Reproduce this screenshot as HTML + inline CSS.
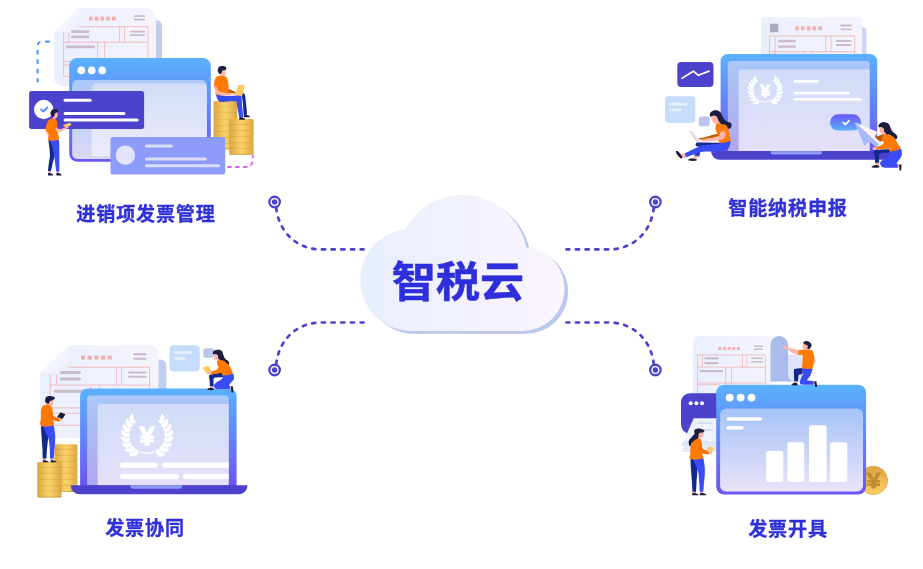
<!DOCTYPE html>
<html lang="zh-CN">
<head>
<meta charset="utf-8">
<title>智税云</title>
<style>
html,body{margin:0;padding:0;background:#fff;}
body{width:923px;height:569px;overflow:hidden;position:relative;font-family:"Liberation Sans","Noto Sans CJK SC",sans-serif;}
#stage{position:absolute;left:0;top:0;width:923px;height:569px;overflow:hidden;background:#fff;}
#stage svg{position:absolute;left:0;top:0;display:block;will-change:transform;}
.lbl,.title{will-change:transform;-webkit-font-smoothing:antialiased;}
.lbl{position:absolute;font-weight:700;font-size:19.1px;letter-spacing:0.8px;-webkit-text-stroke:0.3px #2f30d8;line-height:24px;height:24px;color:#2f30d8;white-space:nowrap;transform:translateX(-50%);}
.title{position:absolute;font-weight:700;font-size:42.6px;-webkit-text-stroke:0.5px #2e2edb;line-height:50px;height:50px;color:#2e2edb;white-space:nowrap;transform:translateX(-50%) scaleX(1.035);}
</style>
</head>
<body>
<div id="stage">
<svg width="923" height="569" viewBox="0 0 923 569">
<defs>
<linearGradient id="gWin" x1="0" y1="0" x2="0" y2="1"><stop offset="0" stop-color="#5bb1ff"/><stop offset="1" stop-color="#6b56f0"/></linearGradient>
<linearGradient id="gP1" x1="0" y1="0" x2="0" y2="1"><stop offset="0" stop-color="#a9c8f8"/><stop offset="1" stop-color="#b0a6f0"/></linearGradient>
<linearGradient id="gP1w" x1="0" y1="0" x2="0" y2="1"><stop offset="0" stop-color="#a9c8f8"/><stop offset="1" stop-color="#dcd8f8"/></linearGradient>
<linearGradient id="gP2w" x1="0" y1="0" x2="0" y2="1"><stop offset="0" stop-color="#d0dcf8"/><stop offset="1" stop-color="#eeebfb"/></linearGradient>
<linearGradient id="gP2" x1="0" y1="0" x2="0" y2="1"><stop offset="0" stop-color="#d0dcf8"/><stop offset="1" stop-color="#e6e0fa"/></linearGradient>
<linearGradient id="gP3" x1="0" y1="0" x2="0" y2="1"><stop offset="0" stop-color="#a4c4f8"/><stop offset="1" stop-color="#ebe2f8"/></linearGradient>
<linearGradient id="gPaper" x1="0" y1="0" x2="1" y2="0"><stop offset="0" stop-color="#eaeffd"/><stop offset="1" stop-color="#f5f3fd"/></linearGradient>
<linearGradient id="gFold" x1="0" y1="0" x2="1" y2="1"><stop offset="0.3" stop-color="#fafbff"/><stop offset="1" stop-color="#e9edfb"/></linearGradient>
<linearGradient id="gCoin" x1="0" y1="0" x2="1" y2="0"><stop offset="0" stop-color="#dca744"/><stop offset=".5" stop-color="#fbd367"/><stop offset="1" stop-color="#dca744"/></linearGradient>
<linearGradient id="gCoin2" x1="0" y1="0" x2="0" y2="1"><stop offset="0" stop-color="#dca342"/><stop offset="1" stop-color="#fbd062"/></linearGradient>
<linearGradient id="gCloud" gradientUnits="userSpaceOnUse" x1="362" y1="0" x2="566" y2="0"><stop offset="0" stop-color="#e8eefe"/><stop offset="1" stop-color="#fbf5fe"/></linearGradient>
<linearGradient id="gBtn" x1="0" y1="0" x2="0" y2="1"><stop offset="0" stop-color="#6b56f0"/><stop offset="1" stop-color="#5bb1ff"/></linearGradient>
</defs>
<g transform="translate(3.6,2.8)" fill="#b9c8ec"><circle cx="411.3" cy="280" r="51"/><circle cx="462.5" cy="260.1" r="65"/><circle cx="522.6" cy="289" r="42"/><rect x="411.3" y="280" width="111.3" height="51"/></g>
<g transform="translate(0,0)" fill="url(#gCloud)"><circle cx="411.3" cy="280" r="51"/><circle cx="462.5" cy="260.1" r="65"/><circle cx="522.6" cy="289" r="42"/><rect x="411.3" y="280" width="111.3" height="51"/></g>
<path d="M276.2,208.0 C279.6,236.0 300.6,249.4 320.6,249.4 H363.5" fill="none" stroke="#4d42cc" stroke-width="2.7" stroke-linecap="round" stroke-dasharray="3.2 6.5"/><circle cx="274.6" cy="202" r="5.25" fill="#fff" stroke="#4d42cc" stroke-width="2.3"/><circle cx="274.6" cy="202" r="2.7" fill="#4d42cc"/>
<path d="M276.2,364.0 C279.6,336.0 300.6,322.5 320.6,322.5 H363.5" fill="none" stroke="#4d42cc" stroke-width="2.7" stroke-linecap="round" stroke-dasharray="3.2 6.5"/><circle cx="274.6" cy="370" r="5.25" fill="#fff" stroke="#4d42cc" stroke-width="2.3"/><circle cx="274.6" cy="370" r="2.7" fill="#4d42cc"/>
<path d="M653.8,208.0 C650.4,236.0 629.4,249.4 609.4,249.4 H566.5" fill="none" stroke="#4d42cc" stroke-width="2.7" stroke-linecap="round" stroke-dasharray="3.2 6.5"/><circle cx="655.4" cy="202" r="5.25" fill="#fff" stroke="#4d42cc" stroke-width="2.3"/><circle cx="655.4" cy="202" r="2.7" fill="#4d42cc"/>
<path d="M653.8,364.0 C650.4,336.0 629.4,322.5 609.4,322.5 H566.5" fill="none" stroke="#4d42cc" stroke-width="2.7" stroke-linecap="round" stroke-dasharray="3.2 6.5"/><circle cx="655.4" cy="370" r="5.25" fill="#fff" stroke="#4d42cc" stroke-width="2.3"/><circle cx="655.4" cy="370" r="2.7" fill="#4d42cc"/>
<g id="tl">
<path d="M49,41.6 H41.6 Q37.6,41.8 37.6,46 V81.4" fill="none" stroke="#4f9cf7" stroke-width="2.2" stroke-linecap="round" stroke-dasharray="3 6.4"/>
<path d="M228,167 H245 Q252.8,167 252.8,159 V156" fill="none" stroke="#e064f0" stroke-width="2" stroke-linecap="round" stroke-dasharray="3 4.8"/>
<path d="M150,20 H156 a6,6 0 0 1 6,6 V60 H150 Z" fill="#c0cdee"/>
<path d="M78.9,7.9 H146 a10,10 0 0 1 10,10 V86 H62.3 a8,8 0 0 1 -8,-8 V32.5 Z" fill="url(#gPaper)"/>
<path d="M54.3,32.5 L78.9,7.9 V28 a4.5,4.5 0 0 1 -4.5,4.5 Z" fill="url(#gFold)"/>
<g fill="none" stroke="#f3aeae" stroke-width="0.8"><path d="M78.9,26.7 H148 V60 M63.6,32.5 V76.4 M68.7,32.5 V42.2 M63.6,42.2 H148 M119.6,26.7 V42.2 M124.6,26.7 V42.2 M97.7,42.2 V60 M104.7,42.2 V60 M63.6,61.5 H70 M63.6,65 H70 M63.6,76.4 H70"/></g>
<rect x="89.0" y="16.7" width="3.6" height="3.9" fill="#f3aeae"/>
<rect x="94.8" y="16.7" width="3.6" height="3.9" fill="#f3aeae"/>
<rect x="100.5" y="16.7" width="3.6" height="3.9" fill="#f3aeae"/>
<rect x="106.2" y="16.7" width="3.6" height="3.9" fill="#f3aeae"/>
<rect x="112.0" y="16.7" width="3.6" height="3.9" fill="#f3aeae"/>
<rect x="133.9" y="15.3" width="11.2" height="1.8" rx="0.9" fill="#c9bcc6" opacity="1"/>
<rect x="133.9" y="18.8" width="11.2" height="1.8" rx="0.9" fill="#c9bcc6" opacity="1"/>
<rect x="71.0" y="30.3" width="18.4" height="2.6" rx="1.3" fill="#c9bcc6" opacity="1"/>
<rect x="71.0" y="35.6" width="18.4" height="2.6" rx="1.3" fill="#c9bcc6" opacity="1"/>
<rect x="66.0" y="45.6" width="29.2" height="2.6" rx="1.3" fill="#c9bcc6" opacity="1"/>
<rect x="129.8" y="30.7" width="15.3" height="1.8" rx="0.9" fill="#c9bcc6" opacity="1"/>
<rect x="129.8" y="34.2" width="15.3" height="1.8" rx="0.9" fill="#c9bcc6" opacity="1"/>
<rect x="213.4" y="101.1" width="24.0" height="6.6" rx="1.5" fill="url(#gCoin)"/><rect x="213.8" y="106.7" width="23.2" height="0.9" rx="0.4" fill="#c48f36" opacity=".6"/><rect x="213.4" y="107.2" width="24.0" height="6.6" rx="1.5" fill="url(#gCoin)"/><rect x="213.8" y="112.8" width="23.2" height="0.9" rx="0.4" fill="#c48f36" opacity=".6"/><rect x="213.4" y="113.3" width="24.0" height="6.6" rx="1.5" fill="url(#gCoin)"/><rect x="213.8" y="118.9" width="23.2" height="0.9" rx="0.4" fill="#c48f36" opacity=".6"/><rect x="213.4" y="119.4" width="24.0" height="6.6" rx="1.5" fill="url(#gCoin)"/><rect x="213.8" y="125.0" width="23.2" height="0.9" rx="0.4" fill="#c48f36" opacity=".6"/><rect x="213.4" y="125.5" width="24.0" height="6.6" rx="1.5" fill="url(#gCoin)"/><rect x="213.8" y="131.1" width="23.2" height="0.9" rx="0.4" fill="#c48f36" opacity=".6"/><rect x="213.4" y="131.6" width="24.0" height="6.6" rx="1.5" fill="url(#gCoin)"/><rect x="213.8" y="137.2" width="23.2" height="0.9" rx="0.4" fill="#c48f36" opacity=".6"/><rect x="213.4" y="137.7" width="24.0" height="6.6" rx="1.5" fill="url(#gCoin)"/><rect x="213.8" y="143.3" width="23.2" height="0.9" rx="0.4" fill="#c48f36" opacity=".6"/><rect x="213.4" y="143.8" width="24.0" height="5.7" rx="1.5" fill="url(#gCoin)"/><rect x="213.8" y="148.5" width="23.2" height="0.9" rx="0.4" fill="#c48f36" opacity=".6"/>
<rect x="229.2" y="118.9" width="24.5" height="6.4" rx="1.5" fill="url(#gCoin)"/><rect x="229.6" y="124.3" width="23.7" height="0.9" rx="0.4" fill="#c48f36" opacity=".6"/><rect x="229.2" y="124.8" width="24.5" height="6.4" rx="1.5" fill="url(#gCoin)"/><rect x="229.6" y="130.2" width="23.7" height="0.9" rx="0.4" fill="#c48f36" opacity=".6"/><rect x="229.2" y="130.7" width="24.5" height="6.4" rx="1.5" fill="url(#gCoin)"/><rect x="229.6" y="136.1" width="23.7" height="0.9" rx="0.4" fill="#c48f36" opacity=".6"/><rect x="229.2" y="136.6" width="24.5" height="6.4" rx="1.5" fill="url(#gCoin)"/><rect x="229.6" y="142.0" width="23.7" height="0.9" rx="0.4" fill="#c48f36" opacity=".6"/><rect x="229.2" y="142.5" width="24.5" height="6.4" rx="1.5" fill="url(#gCoin)"/><rect x="229.6" y="147.9" width="23.7" height="0.9" rx="0.4" fill="#c48f36" opacity=".6"/><rect x="229.2" y="148.4" width="24.5" height="6.4" rx="1.5" fill="url(#gCoin)"/><rect x="229.6" y="153.8" width="23.7" height="0.9" rx="0.4" fill="#c48f36" opacity=".6"/>
<rect x="69.2" y="58" width="141.6" height="103.7" rx="8" fill="url(#gWin)"/>
<rect x="72.2" y="80" width="134.6" height="79" rx="5" fill="url(#gP1w)"/>
<path d="M96.7,83.5 H202.8 a4,4 0 0 1 4,4 V152 a4,4 0 0 1 -4,4 H91.7 V88.5 a5,5 0 0 1 5,-5 Z" fill="url(#gP2w)"/>
<circle cx="81.3" cy="70.4" r="3.8" fill="#fff"/>
<circle cx="91.7" cy="70.4" r="3.8" fill="#fff"/>
<circle cx="102.2" cy="70.4" r="3.8" fill="#fff"/>
<rect x="29.1" y="90.9" width="115" height="38" rx="2.5" fill="#4d42cc"/>
<circle cx="43.7" cy="109.5" r="9.7" fill="#fff"/>
<path d="M41.2,109.6 L43.5,111.4 L47.3,107.5" fill="none" stroke="#4f8ef7" stroke-width="1.9" stroke-linecap="round" stroke-linejoin="round"/>
<rect x="63.6" y="98.7" width="28.1" height="3.0" rx="1.5" fill="#fff" opacity="1"/>
<rect x="63.6" y="111.9" width="61.8" height="3.0" rx="1.5" fill="#fff" opacity="1"/>
<rect x="63.6" y="118.4" width="75.0" height="3.0" rx="1.5" fill="#fff" opacity="1"/>
<rect x="110.5" y="137.1" width="114.7" height="37.4" rx="2.5" fill="#8d9bf9"/>
<circle cx="125.4" cy="155.2" r="9.7" fill="#e3e4fb"/>
<rect x="144.9" y="144.4" width="28.0" height="3.0" rx="1.5" fill="#dadefc" opacity="1"/>
<rect x="144.9" y="157.5" width="61.9" height="3.0" rx="1.5" fill="#dadefc" opacity="1"/>
<rect x="144.9" y="164.2" width="75.1" height="3.0" rx="1.5" fill="#dadefc" opacity="1"/>
<g id="p1">
<path d="M46.01,128.42 C45.54,128.31 45.22,130.05 45.38,130.95 C45.54,131.85 46.43,133.16 46.96,133.80 C47.49,134.43 48.33,135.12 48.54,134.75 C48.76,134.38 48.65,132.64 48.23,131.58 C47.81,130.53 46.49,128.52 46.01,128.42 Z" fill="#fbb4a6" />
<path d="M48.68,140.00 C49.19,139.30 53.79,138.43 54.36,140.00 C54.93,141.57 54.50,153.53 54.36,155.70 C54.23,157.87 53.38,160.16 53.03,161.71 C52.67,163.26 51.31,170.25 50.82,171.20 C50.33,172.15 48.36,171.88 48.15,171.20 C47.94,170.52 48.50,165.93 48.68,164.38 C48.87,162.83 49.95,157.44 50.02,155.70 C50.09,153.96 49.49,148.59 49.35,147.02 C49.22,145.45 48.18,140.70 48.68,140.00 Z" fill="#0f2a8c" />
<path d="M50.35,140.00 C50.99,139.28 57.80,138.57 58.70,139.80 C59.61,141.04 59.31,149.77 59.37,152.36 C59.44,154.95 59.41,163.77 59.37,165.72 C59.34,167.67 59.33,171.25 59.04,171.87 C58.75,172.48 56.90,172.81 56.50,171.87 C56.10,170.92 55.26,164.00 55.03,162.38 C54.80,160.76 54.43,157.24 54.16,155.70 C53.89,154.16 52.74,148.59 52.36,147.02 C51.98,145.45 49.72,140.72 50.35,140.00 Z" fill="#3a4cf5" />
<polygon points="48.4,171.1 50.7,171.1 50.7,172.9 48.4,172.9" fill="#fbb4a6" />
<polygon points="56.7,171.6 59.0,171.6 59.0,172.9 56.7,172.9" fill="#fbb4a6" />
<path d="M48.02,175.41 L48.02,173.58 Q49.30,172.32 50.59,173.30 Q53.16,173.86 53.16,175.41 Z" fill="#1a1a35"/>
<path d="M56.37,175.41 L56.37,173.58 Q57.70,172.32 59.04,173.30 Q61.71,173.86 61.71,175.41 Z" fill="#1a1a35"/>
<polygon points="53.0,116.4 55.5,116.7 55.7,119.2 52.7,119.1" fill="#fbb4a6" />
<path d="M49.49,119.56 C50.51,118.86 51.46,118.67 52.66,118.61 C53.86,118.54 54.62,118.54 55.51,119.24 C56.39,119.94 56.68,120.38 57.09,122.09 C57.49,123.80 57.34,125.44 57.53,127.78 C57.72,130.13 57.87,131.46 58.04,133.80 C58.20,136.14 60.19,138.19 58.35,139.49 C56.52,140.80 50.82,141.27 48.86,140.32 C46.90,139.37 48.80,136.37 48.54,134.75 C48.29,133.13 48.10,133.23 47.59,132.22 C47.09,131.20 46.33,130.82 46.01,129.68 C45.70,128.54 45.70,128.04 46.01,126.52 C46.33,125.00 46.90,123.48 47.59,122.09 C48.29,120.70 48.48,120.25 49.49,119.56 Z" fill="#ff7a00" />
<path d="M55.70,128.54 C55.80,127.93 56.92,127.74 57.47,127.91 C58.02,128.08 57.78,129.63 58.99,129.56 C60.19,129.48 63.21,128.08 64.68,127.47 C66.16,126.86 67.15,125.98 67.85,125.89 C68.54,125.79 69.28,126.30 68.86,126.90 C68.44,127.50 67.05,128.54 65.32,129.49 C63.59,130.44 59.89,132.25 58.48,132.59 C57.07,132.94 57.30,132.26 56.84,131.58 C56.37,130.91 55.59,129.16 55.70,128.54 Z" fill="#fbb4a6" />
<path d="M63.10,125.25 C63.51,124.87 68.61,123.13 69.43,123.04 C70.25,122.94 71.23,124.05 71.33,124.30 C71.42,124.56 70.98,125.32 70.38,125.57 C69.78,125.82 66.04,126.87 65.32,126.84 C64.59,126.80 62.69,125.63 63.10,125.25 Z" fill="#fbcb62" />
<path d="M55.19,112.91 C55.84,112.38 56.91,112.03 57.41,112.47 C57.90,112.91 57.77,114.14 57.66,115.13 C57.54,116.11 57.39,116.94 56.84,117.41 C56.28,117.87 55.41,117.92 54.87,117.47 C54.34,117.01 54.11,116.04 54.18,115.13 C54.24,114.22 54.54,113.44 55.19,112.91 Z" fill="#fbb4a6" />
<path d="M51.08,111.33 C51.59,110.44 51.55,109.93 52.66,109.43 C53.77,108.93 54.54,108.97 55.82,109.18 C57.11,109.38 57.71,109.67 58.16,110.32 C58.62,110.97 58.45,111.36 57.78,111.96 C57.12,112.57 56.11,112.17 55.32,112.91 C54.52,113.65 54.90,114.23 54.37,115.13 C53.84,116.03 53.73,116.62 53.04,116.77 C52.34,116.92 52.00,116.59 51.39,115.76 C50.79,114.93 50.52,114.26 50.44,113.23 C50.37,112.19 50.56,112.22 51.08,111.33 Z" fill="#1d1d40" />
</g>
<g id="p2">
<path d="M241.85,93.45 C242.03,92.44 244.49,93.54 244.92,94.68 C245.35,95.81 245.96,102.81 246.15,104.77 C246.35,106.73 247.13,113.24 246.89,114.25 C246.66,115.26 244.20,115.81 243.82,114.86 C243.43,113.91 243.27,106.91 243.08,104.77 C242.88,102.63 241.66,94.46 241.85,93.45 Z" fill="#0f2a8c" />
<path d="M243.69,117.32 L243.69,115.40 Q245.29,114.07 246.89,115.11 Q250.09,115.70 250.09,117.32 Z" fill="#1a1a35"/>
<path d="M216.44,94.76 C217.29,94.36 222.12,95.52 224.87,95.60 C227.63,95.68 238.11,95.20 240.06,95.43 C242.01,95.66 241.36,95.77 241.58,97.54 C241.79,99.31 242.21,109.09 241.91,110.62 C241.62,112.14 239.65,111.68 239.04,110.62 C238.43,109.55 238.83,102.52 236.68,101.50 C234.54,100.49 222.89,102.22 220.65,101.93 C218.42,101.63 218.02,99.81 217.53,98.97 C217.04,98.14 215.58,95.15 216.44,94.76 Z" fill="#3a4cf5" />
<path d="M236.55,101.69 C236.69,100.62 241.04,100.70 241.48,101.69 C241.91,102.69 243.21,115.51 243.08,116.58 C242.95,117.66 239.94,118.81 239.51,117.82 C239.07,116.82 236.42,102.77 236.55,101.69 Z" fill="#3a4cf5" />
<path d="M239.26,119.66 L239.26,117.82 Q240.74,116.55 242.22,117.54 Q245.17,118.10 245.17,119.66 Z" fill="#1a1a35"/>
<polygon points="220.7,74.5 224.2,74.5 224.4,77.5 220.5,77.5" fill="#fbb4a6" />
<path d="M217.28,76.45 C218.29,75.94 219.22,75.69 220.65,75.61 C222.09,75.52 223.18,75.52 224.45,76.03 C225.72,76.53 226.22,76.79 226.98,78.14 C227.74,79.49 227.91,80.50 228.25,82.78 C228.58,85.05 228.50,87.30 228.67,89.53 C228.84,91.75 231.54,92.87 229.09,93.91 C226.64,94.96 219.05,95.46 216.44,94.76 C213.82,94.05 216.44,91.92 216.01,90.37 C215.59,88.82 214.66,88.68 214.33,87.00 C213.99,85.31 214.07,83.71 214.33,81.93 C214.58,80.16 215.00,79.23 215.59,78.14 C216.18,77.04 216.27,76.96 217.28,76.45 Z" fill="#ff7a00" />
<path d="M228.67,89.10 C229.28,89.02 234.43,91.46 235.16,91.89 C235.90,92.32 236.61,93.32 236.01,93.41 C235.40,93.49 229.82,93.16 229.09,92.73 C228.36,92.30 228.06,89.19 228.67,89.10 Z" fill="#c45f06" />
<path d="M214.24,86.83 C214.45,86.35 216.06,86.26 216.60,86.83 C217.14,87.39 216.85,90.20 218.29,91.04 C219.73,91.89 225.40,92.76 227.40,93.15 C229.40,93.55 232.27,93.69 233.31,94.00 C234.34,94.30 236.18,95.16 235.16,95.43 C234.15,95.70 228.16,96.22 225.72,96.02 C223.27,95.82 218.28,94.67 216.86,93.91 C215.44,93.16 215.43,91.31 215.09,90.37 C214.74,89.42 214.04,87.30 214.24,86.83 Z" fill="#fbb4a6" />
<polygon points="224.9,94.9 235.2,95.2 235.2,95.9 224.9,95.8" fill="#fde8e4" />
<polygon points="237.9,84.9 244.8,84.9 242.3,95.5 235.0,95.5" fill="#fbcb62" />
<path d="M221.92,70.54 C222.78,69.84 224.59,69.36 225.29,69.95 C226.00,70.54 225.61,72.35 225.46,73.50 C225.31,74.64 225.24,75.24 224.53,75.69 C223.83,76.15 222.63,76.21 221.92,75.78 C221.21,75.34 220.99,74.54 220.99,73.50 C220.99,72.45 221.06,71.25 221.92,70.54 Z" fill="#fbb4a6" />
<path d="M218.12,68.44 C218.71,67.16 219.08,66.80 220.65,66.33 C222.23,65.85 223.55,66.04 224.87,66.41 C226.19,66.79 226.19,67.06 226.31,67.93 C226.42,68.80 226.26,69.51 225.38,70.12 C224.49,70.73 223.40,69.95 222.51,70.54 C221.62,71.14 222.21,71.85 221.58,72.65 C220.95,73.46 220.62,74.20 219.81,74.00 C219.00,73.81 218.52,73.11 218.12,71.81 C217.73,70.51 217.53,69.72 218.12,68.44 Z" fill="#1d1d40" />
</g>
</g>
<g id="tr">
<path d="M858,27.2 H862.4 a4,4 0 0 1 4,4 V56 H858 Z" fill="#cad3ef"/>
<rect x="761" y="17.2" width="101.2" height="42" rx="3.5" fill="url(#gPaper)"/>
<rect x="770" y="23.7" width="8.3" height="8.5" fill="#a9aac2"/>
<rect x="795.3" y="26.4" width="3.6" height="3.9" fill="#f3aeae"/>
<rect x="801.0" y="26.4" width="3.6" height="3.9" fill="#f3aeae"/>
<rect x="806.8" y="26.4" width="3.6" height="3.9" fill="#f3aeae"/>
<rect x="812.5" y="26.4" width="3.6" height="3.9" fill="#f3aeae"/>
<rect x="818.3" y="26.4" width="3.6" height="3.9" fill="#f3aeae"/>
<rect x="840.3" y="24.6" width="11.7" height="1.8" rx="0.9" fill="#c9bcc6" opacity="1"/>
<rect x="840.3" y="28.4" width="11.7" height="1.8" rx="0.9" fill="#c9bcc6" opacity="1"/>
<g fill="none" stroke="#f3aeae" stroke-width="0.8"><path d="M769.5,56 V36 H854.7 V56 M775.1,36 V56 M825.7,36 V51.8 M831,36 V51.8 M769.5,51.8 H854.7 M803.7,51.8 V56 M811.6,51.8 V56"/></g>
<rect x="778.0" y="39.8" width="18.0" height="2.4" rx="1.2" fill="#c9bcc6" opacity="1"/>
<rect x="778.0" y="45.4" width="18.0" height="2.4" rx="1.2" fill="#c9bcc6" opacity="1"/>
<rect x="836.0" y="40.1" width="15.6" height="1.8" rx="0.9" fill="#c9bcc6" opacity="1"/>
<rect x="836.0" y="44.1" width="15.6" height="1.8" rx="0.9" fill="#c9bcc6" opacity="1"/>
<path d="M720.6,152 V61.1 a7,7 0 0 1 7,-7 H870.2 a7,7 0 0 1 7,7 V152 Z" fill="url(#gWin)"/>
<path d="M727.8,151.2 V64.1 a3,3 0 0 1 3,-3 H866.6 a3,3 0 0 1 3,3 V151.2 Z" fill="url(#gP1)"/>
<path d="M738.7,151.2 V72.4 a3,3 0 0 1 3,-3 H869.6 V151.2 Z" fill="url(#gP2)"/>
<path d="M711,151 H896 a8.8,8.8 0 0 1 -8.8,8.8 H719.8 a8.8,8.8 0 0 1 -8.8,-8.8 Z" fill="#4d42cc"/>
<path d="M770.4,151.2 H822.2 a3.4,3.4 0 0 1 -3.4,3.4 H773.8 a3.4,3.4 0 0 1 -3.4,-3.4 Z" fill="#8d9bf9"/>
<g fill="#fff" opacity="1"><path transform="translate(772.09,102.56) rotate(7.0)" d="M-0.85,0 Q2.26,-2.91 5.64,0 Q2.26,2.91 -0.85,0 Z"/><path transform="translate(772.09,102.56) rotate(-69.0)" d="M-0.52,0 Q1.40,-2.91 3.50,0 Q1.40,2.91 -0.52,0 Z"/><path transform="translate(774.96,100.45) rotate(-7.6)" d="M-0.85,0 Q2.26,-2.91 5.64,0 Q2.26,2.91 -0.85,0 Z"/><path transform="translate(774.96,100.45) rotate(-83.6)" d="M-0.52,0 Q1.40,-2.91 3.50,0 Q1.40,2.91 -0.52,0 Z"/><path transform="translate(777.20,97.70) rotate(-22.1)" d="M-0.85,0 Q2.26,-2.91 5.64,0 Q2.26,2.91 -0.85,0 Z"/><path transform="translate(777.20,97.70) rotate(-98.1)" d="M-0.52,0 Q1.40,-2.91 3.50,0 Q1.40,2.91 -0.52,0 Z"/><path transform="translate(778.68,94.46) rotate(-36.7)" d="M-0.85,0 Q2.26,-2.91 5.64,0 Q2.26,2.91 -0.85,0 Z"/><path transform="translate(778.68,94.46) rotate(-112.7)" d="M-0.52,0 Q1.40,-2.91 3.50,0 Q1.40,2.91 -0.52,0 Z"/><path transform="translate(779.30,90.96) rotate(-51.3)" d="M-0.85,0 Q2.26,-2.91 5.64,0 Q2.26,2.91 -0.85,0 Z"/><path transform="translate(779.30,90.96) rotate(-127.3)" d="M-0.52,0 Q1.40,-2.91 3.50,0 Q1.40,2.91 -0.52,0 Z"/><path transform="translate(779.01,87.42) rotate(-65.9)" d="M-0.85,0 Q2.26,-2.91 5.64,0 Q2.26,2.91 -0.85,0 Z"/><path transform="translate(779.01,87.42) rotate(-141.9)" d="M-0.52,0 Q1.40,-2.91 3.50,0 Q1.40,2.91 -0.52,0 Z"/><path transform="translate(777.85,84.06) rotate(-80.4)" d="M-0.85,0 Q2.26,-2.91 5.64,0 Q2.26,2.91 -0.85,0 Z"/><path transform="translate(777.85,84.06) rotate(-156.4)" d="M-0.52,0 Q1.40,-2.91 3.50,0 Q1.40,2.91 -0.52,0 Z"/><path transform="translate(775.88,81.11) rotate(-95.0)" d="M-0.85,0 Q2.26,-2.91 5.64,0 Q2.26,2.91 -0.85,0 Z"/><path transform="translate(775.88,81.11) rotate(-171.0)" d="M-0.52,0 Q1.40,-2.91 3.50,0 Q1.40,2.91 -0.52,0 Z"/><path transform="translate(758.51,102.56) rotate(-187.0)" d="M-0.85,0 Q2.26,-2.91 5.64,0 Q2.26,2.91 -0.85,0 Z"/><path transform="translate(758.51,102.56) rotate(-111.0)" d="M-0.52,0 Q1.40,-2.91 3.50,0 Q1.40,2.91 -0.52,0 Z"/><path transform="translate(755.64,100.45) rotate(-172.4)" d="M-0.85,0 Q2.26,-2.91 5.64,0 Q2.26,2.91 -0.85,0 Z"/><path transform="translate(755.64,100.45) rotate(-96.4)" d="M-0.52,0 Q1.40,-2.91 3.50,0 Q1.40,2.91 -0.52,0 Z"/><path transform="translate(753.40,97.70) rotate(-157.9)" d="M-0.85,0 Q2.26,-2.91 5.64,0 Q2.26,2.91 -0.85,0 Z"/><path transform="translate(753.40,97.70) rotate(-81.9)" d="M-0.52,0 Q1.40,-2.91 3.50,0 Q1.40,2.91 -0.52,0 Z"/><path transform="translate(751.92,94.46) rotate(-143.3)" d="M-0.85,0 Q2.26,-2.91 5.64,0 Q2.26,2.91 -0.85,0 Z"/><path transform="translate(751.92,94.46) rotate(-67.3)" d="M-0.52,0 Q1.40,-2.91 3.50,0 Q1.40,2.91 -0.52,0 Z"/><path transform="translate(751.30,90.96) rotate(-128.7)" d="M-0.85,0 Q2.26,-2.91 5.64,0 Q2.26,2.91 -0.85,0 Z"/><path transform="translate(751.30,90.96) rotate(-52.7)" d="M-0.52,0 Q1.40,-2.91 3.50,0 Q1.40,2.91 -0.52,0 Z"/><path transform="translate(751.59,87.42) rotate(-114.1)" d="M-0.85,0 Q2.26,-2.91 5.64,0 Q2.26,2.91 -0.85,0 Z"/><path transform="translate(751.59,87.42) rotate(-38.1)" d="M-0.52,0 Q1.40,-2.91 3.50,0 Q1.40,2.91 -0.52,0 Z"/><path transform="translate(752.75,84.06) rotate(-99.6)" d="M-0.85,0 Q2.26,-2.91 5.64,0 Q2.26,2.91 -0.85,0 Z"/><path transform="translate(752.75,84.06) rotate(-23.6)" d="M-0.52,0 Q1.40,-2.91 3.50,0 Q1.40,2.91 -0.52,0 Z"/><path transform="translate(754.72,81.11) rotate(-85.0)" d="M-0.85,0 Q2.26,-2.91 5.64,0 Q2.26,2.91 -0.85,0 Z"/><path transform="translate(754.72,81.11) rotate(-9.0)" d="M-0.52,0 Q1.40,-2.91 3.50,0 Q1.40,2.91 -0.52,0 Z"/><path d="M760.39,101.22 Q765.30,103.04 770.21,101.22" fill="none" stroke="#fff" stroke-width="0.91" stroke-linecap="round"/><text transform="translate(765.30,96.60) scale(1.05,1)" text-anchor="middle" font-family="'Liberation Sans', sans-serif" font-weight="bold" font-size="16.4" fill="#fff" stroke="#fff" stroke-width="0.82">¥</text></g>
<rect x="793.7" y="80.0" width="25.3" height="2.8" rx="1.4" fill="#fff" opacity="1"/>
<rect x="793.7" y="91.7" width="56.1" height="2.8" rx="1.4" fill="#fff" opacity="1"/>
<rect x="793.7" y="97.9" width="68.0" height="2.8" rx="1.4" fill="#fff" opacity="1"/>
<rect x="830" y="114.3" width="31.2" height="16.3" rx="8.15" fill="url(#gBtn)"/>
<path d="M843.2,122.6 L845.4,124.4 L849,120.8" fill="none" stroke="#fff" stroke-width="1.8" stroke-linecap="round" stroke-linejoin="round"/>
<rect x="677.3" y="62" width="36.2" height="25" rx="4" fill="#4d42cc"/>
<path d="M681.8,78.4 L693.4,71.2 L698.4,75.3 L709,71.1" fill="none" stroke="#fff" stroke-width="1.7" stroke-linecap="round" stroke-linejoin="round"/>
<rect x="665" y="96.2" width="30.3" height="26.8" rx="4" fill="#c6dcfb"/>
<rect x="668.8" y="102.8" width="18.6" height="2.8" rx="1.4" fill="#e4eefd" opacity="1"/>
<rect x="668.8" y="108.5" width="12.8" height="2.8" rx="1.4" fill="#e4eefd" opacity="1"/>
<rect x="698.8" y="116.4" width="10.9" height="9.8" rx="2.5" fill="#bac6ec"/>
<g id="p3">
<path d="M709.85,114.44 C710.10,113.08 710.48,112.26 711.96,111.27 C713.43,110.29 714.21,109.97 716.18,110.22 C718.14,110.46 718.92,110.85 720.39,112.33 C721.87,113.80 721.27,114.58 722.50,116.54 C723.73,118.51 723.82,119.29 725.67,120.76 C727.51,122.24 729.06,121.64 730.41,122.87 C731.76,124.10 731.83,124.68 731.47,126.03 C731.10,127.39 730.43,128.79 728.83,128.67 C727.23,128.55 726.58,126.74 724.61,125.51 C722.64,124.28 721.87,124.50 720.39,123.40 C718.92,122.29 719.27,122.36 718.29,120.76 C717.30,119.16 717.41,117.65 716.18,116.54 C714.95,115.44 714.24,115.89 713.01,116.02 C711.78,116.14 711.64,117.44 710.90,117.07 C710.17,116.70 709.60,115.79 709.85,114.44 Z" fill="#1d1d40" />
<path d="M710.90,116.54 C711.54,115.87 713.75,115.38 715.12,115.81 C716.49,116.23 717.19,117.45 717.76,118.65 C718.33,119.85 718.39,120.85 717.97,121.82 C717.55,122.79 716.64,123.50 715.65,123.50 C714.66,123.50 713.75,122.68 713.01,121.82 C712.27,120.95 712.38,120.23 711.96,119.18 C711.54,118.13 710.27,117.22 710.90,116.54 Z" fill="#fbb4a6" />
<polygon points="716.0,121.6 719.1,121.6 720.1,124.8 716.5,125.2" fill="#fbb4a6" />
<path d="M697.72,142.17 C700.06,141.85 717.16,142.11 719.34,142.48 C721.52,142.85 721.34,145.41 719.55,145.86 C717.76,146.30 703.78,146.93 701.41,146.91 C699.05,146.89 696.30,146.12 695.93,145.65 C695.56,145.17 695.38,142.48 697.72,142.17 Z" fill="#0f2a8c" />
<path d="M695.09,152.18 C695.67,151.82 699.76,151.76 700.15,152.18 C700.54,152.60 699.57,156.04 698.99,156.40 C698.41,156.76 694.74,156.19 694.35,155.77 C693.96,155.35 694.51,152.54 695.09,152.18 Z" fill="#2a40d4" />
<path d="M719.34,142.17 C720.59,141.86 728.90,140.63 730.09,141.11 C731.29,141.59 729.94,145.31 729.57,146.28 C729.20,147.25 728.00,148.89 726.93,149.44 C725.86,150.00 722.26,150.78 720.39,151.02 C718.52,151.27 713.24,151.43 710.90,151.55 C708.57,151.67 703.31,151.39 700.36,152.08 C697.41,152.77 687.53,157.22 685.60,157.46 C683.67,157.69 682.21,155.36 683.81,154.08 C685.41,152.80 696.76,147.57 699.31,146.49 C701.85,145.41 703.29,145.12 705.63,144.80 C707.97,144.48 717.74,144.06 719.34,143.75 C720.94,143.44 718.08,142.47 719.34,142.17 Z" fill="#3a4cf5" />
<path d="M681.17,154.50 C681.38,154.04 684.08,153.01 684.54,153.24 C685.01,153.47 686.02,156.36 685.81,156.82 C685.60,157.29 682.90,158.11 682.44,157.88 C681.97,157.64 680.96,154.97 681.17,154.50 Z" fill="#fbb4a6" />
<path d="M675.90,151.97 C675.93,151.34 676.88,150.78 677.80,151.34 C678.71,151.90 680.64,154.20 681.38,155.35 C682.12,156.49 682.40,157.77 682.22,158.19 C682.05,158.61 681.10,158.39 680.33,157.88 C679.55,157.37 678.32,156.12 677.58,155.14 C676.85,154.15 675.86,152.60 675.90,151.97 Z" fill="#1a1a35" />
<path d="M693.82,155.56 C694.18,155.33 697.10,155.80 697.41,156.08 C697.71,156.37 697.24,158.17 696.88,158.40 C696.52,158.64 694.13,158.69 693.82,158.40 C693.52,158.12 693.46,155.79 693.82,155.56 Z" fill="#fbb4a6" />
<path d="M688.23,159.46 C688.67,159.09 691.03,158.51 692.45,158.51 C693.88,158.51 696.25,159.09 696.78,159.46 C697.30,159.83 696.78,160.51 695.62,160.72 C694.46,160.93 691.05,160.93 689.82,160.72 C688.59,160.51 687.80,159.83 688.23,159.46 Z" fill="#1a1a35" />
<path d="M717.23,123.40 C718.41,122.77 719.61,123.50 721.45,123.92 C723.28,124.35 724.99,124.24 726.40,125.51 C727.82,126.77 727.88,128.04 728.51,130.25 C729.15,132.47 729.25,134.43 729.57,136.58 C729.88,138.73 732.14,139.80 730.09,141.01 C728.05,142.21 721.60,143.26 719.34,142.59 C717.08,141.91 719.44,139.89 718.81,137.63 C718.18,135.38 716.83,133.41 716.18,131.31 C715.52,129.20 715.33,128.67 715.54,127.09 C715.75,125.51 716.05,124.03 717.23,123.40 Z" fill="#ff7a00" />
<path d="M716.18,133.94 C718.14,133.77 719.69,135.53 718.29,136.26 C716.88,136.99 708.02,139.00 705.63,139.42 C703.24,139.85 701.30,139.59 700.36,139.42 C699.42,139.26 698.15,138.41 698.57,138.16 C698.99,137.91 701.18,138.09 703.52,137.53 C705.87,136.96 714.21,134.11 716.18,133.94 Z" fill="#c45f06" />
<path d="M720.39,132.36 C721.20,131.50 723.29,130.87 724.19,131.31 C725.09,131.75 725.86,133.75 725.77,135.00 C725.68,136.24 724.73,137.97 723.66,138.79 C722.59,139.62 722.34,139.50 719.34,139.95 C716.33,140.41 708.48,141.46 705.63,141.53 C702.79,141.60 702.26,140.85 702.26,140.37 C702.26,139.90 703.31,139.16 705.63,138.69 C707.95,138.21 713.89,137.90 716.18,137.53 C718.46,137.16 718.64,137.33 719.34,136.47 C720.04,135.61 719.59,133.22 720.39,132.36 Z" fill="#fbb4a6" />
<polygon points="696.7,141.2 719.3,141.5 719.3,142.7 697.7,142.5" fill="#fde6e6" />
<polygon points="689.1,130.9 692.3,131.6 699.3,140.3 696.7,142.0" fill="#f7b6bc" />
<polygon points="690.3,131.7 692.3,132.1 698.9,140.0 697.4,141.1" fill="#d9edfb" />
</g>
<polygon points="854.6,122.3 864.5,145.7 869.2,141.6 876.2,147.3 879.6,144.2 872.1,138.2 866.4,132.5" fill="#a9b9f9" />
<polygon points="854.6,122.3 877.6,131.9 874.9,136.6 883.4,143.1 879.5,144.6 872.1,138.3 866.5,132.6" fill="#fdf2ef" />
<g id="p4">
<path d="M878.47,125.55 C878.84,124.56 879.10,123.70 880.58,122.91 C882.06,122.12 882.93,121.95 884.80,122.17 C886.67,122.39 887.22,122.46 888.60,123.86 C889.97,125.26 889.72,126.31 890.70,128.18 C891.69,130.05 891.46,130.27 892.81,131.87 C894.17,133.47 895.50,133.56 896.50,135.04 C897.51,136.51 897.53,137.29 897.14,138.20 C896.74,139.11 896.22,139.53 894.82,138.94 C893.41,138.35 892.97,136.68 891.13,135.67 C889.28,134.66 888.63,135.50 886.91,134.61 C885.19,133.73 884.61,133.25 883.74,131.87 C882.88,130.49 883.96,129.69 883.22,128.71 C882.48,127.72 881.57,128.02 880.58,127.65 C879.60,127.29 879.49,127.62 879.00,127.13 C878.51,126.63 878.10,126.53 878.47,125.55 Z" fill="#1d1d40" />
<path d="M879.53,127.13 C880.20,126.79 882.44,127.13 883.32,128.08 C884.21,129.03 884.29,130.86 883.96,131.87 C883.62,132.88 882.48,133.14 881.64,133.14 C880.79,133.14 880.07,132.55 879.74,131.87 C879.40,131.20 879.99,130.71 879.95,129.76 C879.91,128.81 878.85,127.46 879.53,127.13 Z" fill="#fbb4a6" />
<polygon points="882.2,131.9 885.4,132.3 885.4,135.2 882.7,135.2" fill="#fbb4a6" />
<path d="M874.25,150.33 C875.44,149.67 887.73,149.09 889.02,149.27 C890.30,149.46 890.44,152.18 889.65,152.54 C888.86,152.90 880.41,152.72 879.53,153.60 C878.65,154.47 879.46,162.30 879.10,163.09 C878.75,163.88 875.67,163.58 875.31,163.09 C874.95,162.59 874.87,158.24 874.78,157.18 C874.69,156.12 873.07,150.99 874.25,150.33 Z" fill="#0f2a8c" />
<path d="M890.07,151.17 C891.78,150.47 898.12,148.53 900.09,148.74 C902.06,148.96 901.67,151.21 901.88,152.44 C902.09,153.67 901.88,154.81 901.36,156.13 C900.83,157.44 899.51,159.11 898.72,160.34 C897.93,161.57 896.72,162.80 896.61,163.51 C896.50,164.21 897.84,163.91 898.09,164.56 C898.33,165.21 900.48,166.94 898.09,167.41 C895.70,167.88 886.68,167.88 883.74,167.41 C880.81,166.94 881.02,165.48 880.48,164.56 C879.93,163.65 879.93,162.80 880.48,161.93 C881.02,161.05 882.41,160.26 883.74,159.29 C885.08,158.32 887.47,157.18 888.49,156.13 C889.51,155.07 889.60,153.79 889.86,152.96 C890.12,152.14 888.37,151.87 890.07,151.17 Z" fill="#3a4cf5" />
<polygon points="875.7,162.7 879.1,162.7 879.1,165.6 875.7,165.6" fill="#fbb4a6" />
<path d="M871.93,166.36 C872.48,165.92 874.62,165.02 875.84,164.98 C877.05,164.95 878.75,165.70 879.21,166.14 C879.67,166.58 879.68,167.37 878.58,167.62 C877.47,167.87 873.67,167.83 872.57,167.62 C871.46,167.41 871.39,166.79 871.93,166.36 Z" fill="#1a1a35" />
<polygon points="897.7,164.4 899.8,164.4 899.8,167.4 897.7,167.4" fill="#fbb4a6" />
<polygon points="899.1,164.8 901.5,164.2 901.2,170.6 899.6,170.6" fill="#1a1a35" />
<polygon points="875.1,137.2 882.5,134.2 884.6,135.0 883.9,140.8 879.6,141.4" fill="#b5590a" />
<path d="M883.74,134.51 C884.94,133.72 887.26,134.51 889.02,135.04 C890.77,135.56 892.85,136.27 894.29,137.67 C895.73,139.08 896.66,141.63 897.66,143.47 C898.67,145.32 901.57,147.39 900.30,148.74 C899.04,150.10 891.95,151.57 890.07,151.59 C888.19,151.61 891.30,149.20 889.02,148.85 C886.73,148.50 878.58,149.68 876.36,149.48 C874.15,149.29 874.85,148.43 875.73,147.69 C876.61,146.95 880.30,145.93 881.64,145.05 C882.97,144.18 883.71,143.30 883.74,142.42 C883.78,141.54 881.85,141.10 881.85,139.78 C881.85,138.46 882.55,135.30 883.74,134.51 Z" fill="#ff7a00" />
<path d="M872.46,147.69 C872.81,147.20 875.15,146.78 875.84,147.06 C876.52,147.34 876.93,148.89 876.57,149.38 C876.22,149.87 874.41,150.29 873.73,150.01 C873.04,149.73 872.11,148.18 872.46,147.69 Z" fill="#fbb4a6" />
</g>
</g>
<g id="bl">
<path d="M154,359.6 H160.4 a6,6 0 0 1 6,6 V390 H154 Z" fill="#c0cdee"/>
<path d="M69,345.2 H150.5 a8,8 0 0 1 8,8 V438 H48.2 a8,8 0 0 1 -8,-8 V372.8 Z" fill="url(#gPaper)"/>
<path d="M40.2,372.8 L69,345.2 V368 a4.8,4.8 0 0 1 -4.8,4.8 Z" fill="url(#gFold)"/>
<g fill="none" stroke="#f3aeae" stroke-width="0.8"><path d="M67.8,367.2 H149.5 V390 M50.2,374.5 V426 M56.7,374.5 V385.1 M50.2,385.1 H149.5 M116.4,367.2 V385.1 M121.7,367.2 V385.1 M90.6,385.1 V390 M99.4,385.1 V390 M50.2,407.9 H81 M50.2,413.2 H81 M50.2,425.3 H81"/></g>
<rect x="81.0" y="355.7" width="4" height="3.9" fill="#f3aeae"/>
<rect x="87.7" y="355.7" width="4" height="3.9" fill="#f3aeae"/>
<rect x="94.4" y="355.7" width="4" height="3.9" fill="#f3aeae"/>
<rect x="101.1" y="355.7" width="4" height="3.9" fill="#f3aeae"/>
<rect x="107.8" y="355.7" width="4" height="3.9" fill="#f3aeae"/>
<rect x="133.1" y="353.3" width="13.4" height="2.0" rx="1.0" fill="#c9bcc6" opacity="1"/>
<rect x="133.1" y="357.7" width="13.4" height="2.0" rx="1.0" fill="#c9bcc6" opacity="1"/>
<rect x="59.9" y="370.9" width="21.1" height="3.0" rx="1.5" fill="#c9bcc6" opacity="1"/>
<rect x="59.9" y="377.4" width="21.1" height="3.0" rx="1.5" fill="#c9bcc6" opacity="1"/>
<rect x="53.7" y="389.7" width="31.3" height="3.0" rx="1.5" fill="#c9bcc6" opacity="1"/>
<rect x="128.0" y="371.4" width="18.5" height="2.0" rx="1.0" fill="#c9bcc6" opacity="1"/>
<rect x="128.0" y="375.8" width="18.5" height="2.0" rx="1.0" fill="#c9bcc6" opacity="1"/>
<rect x="54.4" y="444.2" width="23.0" height="6.4" rx="1.5" fill="url(#gCoin)"/><rect x="54.8" y="449.6" width="22.2" height="0.9" rx="0.4" fill="#c48f36" opacity=".6"/><rect x="54.4" y="450.1" width="23.0" height="6.4" rx="1.5" fill="url(#gCoin)"/><rect x="54.8" y="455.5" width="22.2" height="0.9" rx="0.4" fill="#c48f36" opacity=".6"/><rect x="54.4" y="456.0" width="23.0" height="6.4" rx="1.5" fill="url(#gCoin)"/><rect x="54.8" y="461.4" width="22.2" height="0.9" rx="0.4" fill="#c48f36" opacity=".6"/><rect x="54.4" y="461.9" width="23.0" height="6.4" rx="1.5" fill="url(#gCoin)"/><rect x="54.8" y="467.3" width="22.2" height="0.9" rx="0.4" fill="#c48f36" opacity=".6"/><rect x="54.4" y="467.8" width="23.0" height="6.4" rx="1.5" fill="url(#gCoin)"/><rect x="54.8" y="473.2" width="22.2" height="0.9" rx="0.4" fill="#c48f36" opacity=".6"/><rect x="54.4" y="473.7" width="23.0" height="6.4" rx="1.5" fill="url(#gCoin)"/><rect x="54.8" y="479.1" width="22.2" height="0.9" rx="0.4" fill="#c48f36" opacity=".6"/><rect x="54.4" y="479.6" width="23.0" height="6.4" rx="1.5" fill="url(#gCoin)"/><rect x="54.8" y="485.0" width="22.2" height="0.9" rx="0.4" fill="#c48f36" opacity=".6"/><rect x="54.4" y="485.5" width="23.0" height="6.4" rx="1.5" fill="url(#gCoin)"/><rect x="54.8" y="490.9" width="22.2" height="0.9" rx="0.4" fill="#c48f36" opacity=".6"/>
<rect x="37.2" y="462.0" width="24.4" height="6.3" rx="1.5" fill="url(#gCoin)"/><rect x="37.6" y="467.4" width="23.6" height="0.9" rx="0.4" fill="#c48f36" opacity=".6"/><rect x="37.2" y="467.9" width="24.4" height="6.3" rx="1.5" fill="url(#gCoin)"/><rect x="37.6" y="473.2" width="23.6" height="0.9" rx="0.4" fill="#c48f36" opacity=".6"/><rect x="37.2" y="473.7" width="24.4" height="6.3" rx="1.5" fill="url(#gCoin)"/><rect x="37.6" y="479.1" width="23.6" height="0.9" rx="0.4" fill="#c48f36" opacity=".6"/><rect x="37.2" y="479.6" width="24.4" height="6.3" rx="1.5" fill="url(#gCoin)"/><rect x="37.6" y="484.9" width="23.6" height="0.9" rx="0.4" fill="#c48f36" opacity=".6"/><rect x="37.2" y="485.4" width="24.4" height="6.3" rx="1.5" fill="url(#gCoin)"/><rect x="37.6" y="490.8" width="23.6" height="0.9" rx="0.4" fill="#c48f36" opacity=".6"/><rect x="37.2" y="491.3" width="24.4" height="6.2" rx="1.5" fill="url(#gCoin)"/><rect x="37.6" y="496.5" width="23.6" height="0.9" rx="0.4" fill="#c48f36" opacity=".6"/>
<path d="M80.1,486 V395.6 a7,7 0 0 1 7,-7 H229.6 a7,7 0 0 1 7,7 V486 Z" fill="url(#gWin)"/>
<path d="M87.1,485.3 V398.6 a3,3 0 0 1 3,-3 H225.7 a3,3 0 0 1 3,3 V485.3 Z" fill="url(#gP1)"/>
<path d="M97.6,485.3 V406.9 a3,3 0 0 1 3,-3 H228.7 V485.3 Z" fill="url(#gP2)"/>
<path d="M70.8,485.3 H247.5 a9,9 0 0 1 -9,9 H79.8 a9,9 0 0 1 -9,-9 Z" fill="#4d42cc"/>
<path d="M130.2,485.3 H182.5 a3.5,3.5 0 0 1 -3.5,3.5 H133.7 a3.5,3.5 0 0 1 -3.5,-3.5 Z" fill="#8d9bf9"/>
<g fill="#fff" opacity="1"><path transform="translate(157.12,453.85) rotate(7.0)" d="M-1.26,0 Q3.36,-4.34 8.40,0 Q3.36,4.34 -1.26,0 Z"/><path transform="translate(157.12,453.85) rotate(-69.0)" d="M-0.78,0 Q2.08,-4.34 5.21,0 Q2.08,4.34 -0.78,0 Z"/><path transform="translate(161.38,450.72) rotate(-7.6)" d="M-1.26,0 Q3.36,-4.34 8.40,0 Q3.36,4.34 -1.26,0 Z"/><path transform="translate(161.38,450.72) rotate(-83.6)" d="M-0.78,0 Q2.08,-4.34 5.21,0 Q2.08,4.34 -0.78,0 Z"/><path transform="translate(164.72,446.61) rotate(-22.1)" d="M-1.26,0 Q3.36,-4.34 8.40,0 Q3.36,4.34 -1.26,0 Z"/><path transform="translate(164.72,446.61) rotate(-98.1)" d="M-0.78,0 Q2.08,-4.34 5.21,0 Q2.08,4.34 -0.78,0 Z"/><path transform="translate(166.92,441.80) rotate(-36.7)" d="M-1.26,0 Q3.36,-4.34 8.40,0 Q3.36,4.34 -1.26,0 Z"/><path transform="translate(166.92,441.80) rotate(-112.7)" d="M-0.78,0 Q2.08,-4.34 5.21,0 Q2.08,4.34 -0.78,0 Z"/><path transform="translate(167.84,436.59) rotate(-51.3)" d="M-1.26,0 Q3.36,-4.34 8.40,0 Q3.36,4.34 -1.26,0 Z"/><path transform="translate(167.84,436.59) rotate(-127.3)" d="M-0.78,0 Q2.08,-4.34 5.21,0 Q2.08,4.34 -0.78,0 Z"/><path transform="translate(167.42,431.31) rotate(-65.9)" d="M-1.26,0 Q3.36,-4.34 8.40,0 Q3.36,4.34 -1.26,0 Z"/><path transform="translate(167.42,431.31) rotate(-141.9)" d="M-0.78,0 Q2.08,-4.34 5.21,0 Q2.08,4.34 -0.78,0 Z"/><path transform="translate(165.69,426.31) rotate(-80.4)" d="M-1.26,0 Q3.36,-4.34 8.40,0 Q3.36,4.34 -1.26,0 Z"/><path transform="translate(165.69,426.31) rotate(-156.4)" d="M-0.78,0 Q2.08,-4.34 5.21,0 Q2.08,4.34 -0.78,0 Z"/><path transform="translate(162.75,421.91) rotate(-95.0)" d="M-1.26,0 Q3.36,-4.34 8.40,0 Q3.36,4.34 -1.26,0 Z"/><path transform="translate(162.75,421.91) rotate(-171.0)" d="M-0.78,0 Q2.08,-4.34 5.21,0 Q2.08,4.34 -0.78,0 Z"/><path transform="translate(136.88,453.85) rotate(-187.0)" d="M-1.26,0 Q3.36,-4.34 8.40,0 Q3.36,4.34 -1.26,0 Z"/><path transform="translate(136.88,453.85) rotate(-111.0)" d="M-0.78,0 Q2.08,-4.34 5.21,0 Q2.08,4.34 -0.78,0 Z"/><path transform="translate(132.62,450.72) rotate(-172.4)" d="M-1.26,0 Q3.36,-4.34 8.40,0 Q3.36,4.34 -1.26,0 Z"/><path transform="translate(132.62,450.72) rotate(-96.4)" d="M-0.78,0 Q2.08,-4.34 5.21,0 Q2.08,4.34 -0.78,0 Z"/><path transform="translate(129.28,446.61) rotate(-157.9)" d="M-1.26,0 Q3.36,-4.34 8.40,0 Q3.36,4.34 -1.26,0 Z"/><path transform="translate(129.28,446.61) rotate(-81.9)" d="M-0.78,0 Q2.08,-4.34 5.21,0 Q2.08,4.34 -0.78,0 Z"/><path transform="translate(127.08,441.80) rotate(-143.3)" d="M-1.26,0 Q3.36,-4.34 8.40,0 Q3.36,4.34 -1.26,0 Z"/><path transform="translate(127.08,441.80) rotate(-67.3)" d="M-0.78,0 Q2.08,-4.34 5.21,0 Q2.08,4.34 -0.78,0 Z"/><path transform="translate(126.16,436.59) rotate(-128.7)" d="M-1.26,0 Q3.36,-4.34 8.40,0 Q3.36,4.34 -1.26,0 Z"/><path transform="translate(126.16,436.59) rotate(-52.7)" d="M-0.78,0 Q2.08,-4.34 5.21,0 Q2.08,4.34 -0.78,0 Z"/><path transform="translate(126.58,431.31) rotate(-114.1)" d="M-1.26,0 Q3.36,-4.34 8.40,0 Q3.36,4.34 -1.26,0 Z"/><path transform="translate(126.58,431.31) rotate(-38.1)" d="M-0.78,0 Q2.08,-4.34 5.21,0 Q2.08,4.34 -0.78,0 Z"/><path transform="translate(128.31,426.31) rotate(-99.6)" d="M-1.26,0 Q3.36,-4.34 8.40,0 Q3.36,4.34 -1.26,0 Z"/><path transform="translate(128.31,426.31) rotate(-23.6)" d="M-0.78,0 Q2.08,-4.34 5.21,0 Q2.08,4.34 -0.78,0 Z"/><path transform="translate(131.25,421.91) rotate(-85.0)" d="M-1.26,0 Q3.36,-4.34 8.40,0 Q3.36,4.34 -1.26,0 Z"/><path transform="translate(131.25,421.91) rotate(-9.0)" d="M-0.78,0 Q2.08,-4.34 5.21,0 Q2.08,4.34 -0.78,0 Z"/><path d="M139.68,451.86 Q147.00,454.57 154.32,451.86" fill="none" stroke="#fff" stroke-width="1.36" stroke-linecap="round"/><text transform="translate(147.00,445.20) scale(1.04,1)" text-anchor="middle" font-family="'Liberation Sans', sans-serif" font-weight="bold" font-size="25.4" fill="#fff" stroke="#fff" stroke-width="1.27">¥</text></g>
<rect x="120.0" y="462.5" width="37.6" height="5.2" rx="2.6" fill="#fff" opacity="1"/>
<path d="M164.6,462.5 H228.7 V467.7 H164.6 a2.6,2.6 0 0 1 0,-5.2 Z" fill="#fff"/>
<rect x="120.0" y="473.9" width="59.0" height="5.2" rx="2.6" fill="#fff" opacity="1"/>
<path d="M185.6,473.9 H228.7 V479.1 H185.6 a2.6,2.6 0 0 1 0,-5.2 Z" fill="#fff"/>
<rect x="169.5" y="345.2" width="30.2" height="26.3" rx="4" fill="#c6dcfb"/>
<rect x="173.4" y="351.2" width="18.8" height="2.8" rx="1.4" fill="#e4eefd" opacity="1"/>
<rect x="173.4" y="357.0" width="12.6" height="2.8" rx="1.4" fill="#e4eefd" opacity="1"/>
<rect x="203.3" y="348.2" width="10.5" height="9.6" rx="2.5" fill="#bac6ec"/>
<g id="p5">
<path d="M41.38,425.48 C42.01,424.15 47.36,424.15 48.02,425.48 C48.69,426.80 48.13,436.32 48.02,438.76 C47.91,441.20 47.09,447.82 46.92,449.83 C46.74,451.84 46.66,457.93 46.25,458.83 C45.85,459.73 43.23,459.73 42.86,458.83 C42.48,457.93 42.60,451.84 42.49,449.83 C42.38,447.82 41.86,441.20 41.75,438.76 C41.64,436.32 40.75,426.80 41.38,425.48 Z" fill="#0f2a8c" />
<path d="M43.23,425.48 C44.00,424.86 52.00,424.22 53.19,425.18 C54.38,426.14 54.92,433.34 55.11,435.07 C55.30,436.80 55.18,440.97 55.11,442.45 C55.03,443.93 54.52,448.19 54.37,449.83 C54.22,451.47 54.04,457.93 53.63,458.83 C53.22,459.73 50.61,459.73 50.24,458.83 C49.86,457.93 50.01,451.76 49.87,449.83 C49.72,447.90 49.20,441.34 48.76,439.50 C48.32,437.65 45.99,432.78 45.44,431.38 C44.89,429.98 42.45,426.10 43.23,425.48 Z" fill="#3a4cf5" />
<polygon points="43.2,458.5 46.0,458.5 46.0,460.3 43.2,460.3" fill="#fbb4a6" />
<polygon points="50.6,458.5 53.3,458.5 53.3,460.3 50.6,460.3" fill="#fbb4a6" />
<path d="M42.71,462.23 L42.71,460.65 Q44.26,459.55 45.81,460.40 Q48.91,460.89 48.91,462.23 Z" fill="#1a1a35"/>
<path d="M50.46,462.23 L50.46,460.65 Q52.01,459.55 53.56,460.40 Q56.66,460.89 56.66,462.23 Z" fill="#1a1a35"/>
<polygon points="47.7,403.4 50.7,403.8 51.0,406.0 47.7,406.0" fill="#fbb4a6" />
<path d="M43.84,405.47 C44.91,404.90 45.95,404.34 47.36,404.41 C48.76,404.48 49.85,404.76 50.87,405.82 C51.90,406.87 52.08,407.22 52.49,409.68 C52.90,412.14 52.80,415.00 52.91,418.12 C53.02,421.24 55.37,423.74 53.05,425.29 C50.73,426.84 43.73,427.29 41.31,425.85 C38.89,424.42 41.03,421.07 40.96,418.12 C40.89,415.17 40.75,413.27 40.96,411.09 C41.17,408.91 41.44,408.35 42.01,407.22 C42.59,406.10 42.77,406.03 43.84,405.47 Z" fill="#ff7a00" />
<path d="M49.82,411.09 C50.20,410.39 51.83,411.62 52.49,412.50 C53.14,413.37 52.66,415.37 53.75,416.36 C54.84,417.36 58.03,417.76 59.03,418.47 C60.02,419.19 59.92,420.16 59.73,420.65 C59.54,421.14 59.14,421.60 57.90,421.42 C56.66,421.25 53.57,420.38 52.28,419.60 C50.99,418.81 50.58,418.13 50.17,416.71 C49.76,415.30 49.43,411.79 49.82,411.09 Z" fill="#f27200" />
<path d="M59.17,418.68 C59.54,418.31 61.39,418.72 61.84,419.10 C62.28,419.49 62.21,420.63 61.84,421.00 C61.46,421.38 60.03,421.74 59.59,421.35 C59.14,420.97 58.79,419.06 59.17,418.68 Z" fill="#fbb4a6" />
<polygon points="60.4,412.3 65.4,414.3 62.5,418.9 57.1,417.1" fill="#1c1c32" />
<path d="M49.82,400.90 C50.62,400.31 52.02,400.05 52.70,400.40 C53.37,400.76 53.26,401.70 53.19,402.65 C53.12,403.61 53.02,404.66 52.35,405.18 C51.67,405.70 50.55,405.62 49.82,405.25 C49.09,404.89 48.69,404.23 48.69,403.36 C48.69,402.49 49.02,401.49 49.82,400.90 Z" fill="#fbb4a6" />
<path d="M45.25,399.14 C45.59,398.07 45.51,397.40 46.65,396.68 C47.80,395.96 48.33,395.90 50.17,396.05 C52.01,396.19 53.53,396.65 54.53,397.31 C55.53,397.97 55.05,398.10 54.46,398.86 C53.87,399.61 53.06,399.99 52.00,400.54 C50.93,401.10 50.71,400.49 49.89,401.25 C49.07,402.00 49.32,403.35 48.48,403.78 C47.64,404.21 47.07,403.67 46.30,403.08 C45.53,402.49 45.42,402.17 45.18,401.25 C44.93,400.33 44.90,400.21 45.25,399.14 Z" fill="#1d1d40" />
</g>
<g id="p6">
<path d="M212.89,352.57 C213.12,351.67 213.10,351.12 214.34,350.44 C215.58,349.77 216.52,349.58 218.21,349.67 C219.90,349.76 220.42,349.70 221.60,350.83 C222.77,351.96 222.45,352.75 223.24,354.51 C224.03,356.27 223.78,356.80 224.98,358.38 C226.18,359.95 227.40,359.97 228.37,361.28 C229.34,362.59 229.36,363.26 229.14,363.98 C228.91,364.71 228.59,364.89 227.40,364.37 C226.20,363.85 225.66,362.60 224.01,361.76 C222.37,360.93 221.74,361.58 220.34,360.79 C218.94,360.00 218.69,359.66 218.02,358.38 C217.34,357.09 218.18,356.18 217.44,355.28 C216.69,354.38 215.77,354.73 214.83,354.51 C213.88,354.28 213.83,354.76 213.38,354.31 C212.92,353.86 212.67,353.48 212.89,352.57 Z" fill="#1d1d40" />
<path d="M213.86,354.51 C214.48,354.22 216.61,354.22 217.44,354.99 C218.27,355.76 218.29,357.45 218.02,358.38 C217.75,359.30 216.86,359.59 216.08,359.63 C215.31,359.67 214.50,359.21 214.15,358.57 C213.80,357.93 214.40,357.25 214.34,356.44 C214.28,355.63 213.24,354.80 213.86,354.51 Z" fill="#fbb4a6" />
<polygon points="216.5,358.4 219.4,358.8 219.4,361.5 216.9,361.5" fill="#fbb4a6" />
<path d="M209.51,375.01 C210.58,374.36 221.42,372.72 222.56,372.88 C223.71,373.04 223.96,376.52 223.24,376.94 C222.52,377.36 214.76,377.11 213.96,377.91 C213.15,378.72 213.89,385.89 213.57,386.62 C213.25,387.34 210.41,387.11 210.09,386.62 C209.76,386.12 209.75,381.59 209.70,380.62 C209.65,379.65 208.43,375.65 209.51,375.01 Z" fill="#0f2a8c" />
<path d="M223.05,375.30 C224.61,374.62 230.43,372.93 232.23,373.17 C234.04,373.41 233.67,375.67 233.88,376.75 C234.09,377.83 233.97,378.65 233.49,379.65 C233.01,380.65 231.72,381.81 230.98,382.75 C230.24,383.68 229.14,384.65 229.04,385.26 C228.95,385.87 230.17,385.86 230.40,386.42 C230.62,386.99 232.72,388.28 230.40,388.65 C228.08,389.02 219.18,389.05 216.47,388.65 C213.76,388.24 214.44,386.99 214.15,386.23 C213.86,385.47 214.13,384.87 214.73,384.10 C215.33,383.33 216.63,382.36 217.73,381.59 C218.82,380.81 220.45,380.18 221.31,379.46 C222.16,378.73 222.56,377.93 222.85,377.23 C223.14,376.54 221.48,375.98 223.05,375.30 Z" fill="#3a4cf5" />
<polygon points="210.3,386.2 213.4,386.2 213.4,388.4 210.3,388.4" fill="#fbb4a6" />
<path d="M207.57,389.13 C207.96,388.73 209.47,387.76 210.47,387.68 C211.47,387.60 213.12,388.24 213.57,388.65 C214.02,389.05 214.08,389.85 213.18,390.10 C212.28,390.34 209.09,390.26 208.15,390.10 C207.22,389.94 207.19,389.53 207.57,389.13 Z" fill="#1a1a35" />
<polygon points="230.0,386.2 231.8,386.2 231.8,388.8 230.0,388.8" fill="#fbb4a6" />
<polygon points="230.8,386.6 232.9,386.2 233.3,392.4 231.6,392.4" fill="#1a1a35" />
<polygon points="202.7,367.6 208.1,365.6 212.1,371.4 207.1,374.5" fill="#fbcb62" />
<path d="M217.73,360.79 C218.73,360.20 221.52,360.20 223.05,360.60 C224.58,361.00 225.92,362.42 226.91,363.21 C227.91,364.00 228.12,363.65 229.04,365.34 C229.96,367.03 233.43,371.67 232.43,373.37 C231.43,375.06 224.93,375.54 223.05,375.49 C221.16,375.44 223.05,373.24 221.11,373.08 C219.18,372.91 213.17,374.69 211.44,374.53 C209.72,374.36 209.88,372.95 210.76,372.11 C211.65,371.27 215.49,370.34 216.76,369.50 C218.03,368.66 218.36,367.97 218.40,367.08 C218.45,366.19 217.16,365.23 217.05,364.18 C216.94,363.13 216.73,361.39 217.73,360.79 Z" fill="#ff7a00" />
<path d="M208.06,371.91 C208.38,371.38 210.36,371.08 210.96,371.43 C211.55,371.79 211.96,373.51 211.63,374.04 C211.31,374.57 209.62,374.98 209.02,374.62 C208.43,374.27 207.73,372.45 208.06,371.91 Z" fill="#fbb4a6" />
</g>
</g>
<g id="br">
<path d="M700.8,335.9 H780 V381.4 H771 V395 H692.8 V343.9 a8,8 0 0 1 8,-8 Z" fill="url(#gPaper)"/>
<rect x="787" y="354.8" width="15.4" height="27" fill="#dfe4fb"/>
<path d="M770.5,381.4 V344.7 a8.8,8.8 0 0 1 17.6,0 V375 a6.4,6.4 0 0 0 6.4,6.4 Z" fill="#a9bcec"/>
<rect x="718.3" y="347" width="3" height="3" fill="#f3aeae"/>
<rect x="722.9" y="347" width="3" height="3" fill="#f3aeae"/>
<rect x="727.6" y="347" width="3" height="3" fill="#f3aeae"/>
<rect x="732.2" y="347" width="3" height="3" fill="#f3aeae"/>
<rect x="736.9" y="347" width="3" height="3" fill="#f3aeae"/>
<rect x="754.0" y="345.6" width="9.1" height="1.5" rx="0.8" fill="#c9bcc6" opacity="1"/>
<rect x="754.0" y="348.4" width="9.1" height="1.5" rx="0.8" fill="#c9bcc6" opacity="1"/>
<g fill="none" stroke="#f3aeae" stroke-width="0.7"><path d="M697.6,354.9 H765.4 V386 M697.6,354.9 V395 M702.5,354.9 V367.2 M742.4,354.9 V367.2 M746.8,354.9 V367.2 M697.6,367.2 H765.4 M725.7,367.2 V383 M731.5,367.2 V383 M697.6,383 H765.4 M697.6,384.7 H720"/></g>
<rect x="704.3" y="357.3" width="14.5" height="2.2" rx="1.1" fill="#c9bcc6" opacity="1"/>
<rect x="704.3" y="362.0" width="14.5" height="2.2" rx="1.1" fill="#c9bcc6" opacity="1"/>
<rect x="699.9" y="370.1" width="23.3" height="2.2" rx="1.1" fill="#c9bcc6" opacity="1"/>
<rect x="750.8" y="357.6" width="12.3" height="1.5" rx="0.8" fill="#c9bcc6" opacity="1"/>
<rect x="750.8" y="361.1" width="12.3" height="1.5" rx="0.8" fill="#c9bcc6" opacity="1"/>
<path d="M690,393.2 H720 V435 H692 Q681,433 681,424 V402.2 a9,9 0 0 1 9,-9 Z" fill="#4d42cc"/>
<circle cx="690.7" cy="403.2" r="2" fill="#fff"/>
<circle cx="696.4" cy="403.2" r="2" fill="#fff"/>
<circle cx="702" cy="403.2" r="2" fill="#fff"/>
<polygon points="693.7,418.2 720.0,418.2 720.0,446.0 681.4,446.0" fill="#eef2fd" />
<polygon points="684.0,441.0 720.0,441.0 720.0,446.0 681.4,446.0" fill="#dfe6f8" />
<polygon points="684.5,446.0 720.0,446.0 720.0,452.0 681.0,452.0" fill="#e6ebf9" />
<rect x="697.0" y="422.3" width="15.0" height="1.4" rx="0.7" fill="#d0daf4" opacity="1"/>
<rect x="700.0" y="429.3" width="14.0" height="1.4" rx="0.7" fill="#d0daf4" opacity="1"/>
<circle cx="873.4" cy="480.4" r="14.1" fill="url(#gCoin2)" stroke="#dba847" stroke-width="1"/>
<text transform="translate(873.6,488.4) scale(1.12,1)" text-anchor="middle" font-family="'Liberation Sans', sans-serif" font-weight="bold" font-size="22.6" fill="#c28b30" stroke="#c28b30" stroke-width="0.8">¥</text>
<rect x="716.2" y="384.7" width="149.9" height="109.9" rx="8" fill="url(#gWin)"/>
<rect x="720.1" y="408.5" width="142.9" height="83" rx="6" fill="url(#gP3)"/>
<circle cx="729.7" cy="397.6" r="3.9" fill="#fff"/>
<circle cx="740.6" cy="397.6" r="3.9" fill="#fff"/>
<circle cx="751.5" cy="397.6" r="3.9" fill="#fff"/>
<rect x="726.6" y="417.2" width="35.3" height="3.5" rx="1.8" fill="#fff" opacity="1"/>
<rect x="726.6" y="426.1" width="17.2" height="3.5" rx="1.8" fill="#fff" opacity="1"/>
<rect x="766.1" y="451" width="17.2" height="31.0" rx="2" fill="#fff"/>
<rect x="787.4" y="442.2" width="16.8" height="39.8" rx="2" fill="#fff"/>
<rect x="809" y="425.2" width="17.6" height="56.8" rx="2" fill="#fff"/>
<rect x="830.1" y="442.2" width="17.2" height="39.8" rx="2" fill="#fff"/>
<g id="p7">
<path d="M690.76,457.93 C691.38,456.58 696.68,456.58 697.33,457.93 C697.99,459.29 697.41,469.11 697.33,471.47 C697.26,473.83 696.71,479.46 696.56,481.52 C696.41,483.59 696.25,491.06 695.87,492.12 C695.48,493.18 693.09,493.18 692.69,492.12 C692.30,491.06 692.08,483.59 691.92,481.52 C691.77,479.46 691.26,473.83 691.15,471.47 C691.03,469.11 690.14,459.29 690.76,457.93 Z" fill="#0f2a8c" />
<path d="M692.69,457.93 C693.47,457.31 701.54,456.58 702.75,457.55 C703.96,458.51 704.56,465.82 704.76,467.60 C704.96,469.38 704.84,473.79 704.76,475.33 C704.68,476.88 704.14,481.39 703.99,483.07 C703.83,484.75 703.61,491.21 703.21,492.12 C702.82,493.02 700.44,493.02 700.04,492.12 C699.65,491.21 699.45,485.06 699.27,483.07 C699.09,481.08 698.69,474.17 698.26,472.24 C697.84,470.31 695.57,465.16 695.01,463.73 C694.46,462.30 691.92,458.55 692.69,457.93 Z" fill="#3a4cf5" />
<polygon points="692.8,491.7 695.6,491.7 695.6,493.3 692.8,493.3" fill="#fbb4a6" />
<polygon points="700.3,491.7 703.1,491.7 703.1,493.3 700.3,493.3" fill="#fbb4a6" />
<path d="M692.15,495.13 L692.15,493.47 Q693.78,492.33 695.40,493.22 Q698.65,493.73 698.65,495.13 Z" fill="#1a1a35"/>
<path d="M699.73,495.13 L699.73,493.47 Q701.40,492.33 703.06,493.22 Q706.38,493.73 706.38,495.13 Z" fill="#1a1a35"/>
<path d="M694.17,431.03 C694.58,429.88 694.64,429.41 696.28,428.92 C697.92,428.43 699.36,428.59 701.20,428.92 C703.03,429.25 703.56,429.57 704.15,430.33 C704.74,431.08 704.58,431.50 703.73,432.15 C702.87,432.81 701.57,432.58 700.49,433.14 C699.41,433.70 699.58,433.40 699.09,434.54 C698.59,435.69 699.20,436.58 698.38,438.06 C697.56,439.53 697.05,439.72 695.57,440.87 C694.10,442.02 693.29,441.72 692.06,442.98 C690.83,444.24 691.05,446.12 690.30,446.28 C689.55,446.45 689.09,445.11 688.82,443.68 C688.56,442.25 688.42,441.81 689.18,440.17 C689.93,438.53 690.81,438.13 692.06,436.65 C693.30,435.18 694.03,435.15 694.52,433.84 C695.01,432.53 693.76,432.18 694.17,431.03 Z" fill="#1d1d40" />
<path d="M699.09,433.14 C699.89,432.56 701.87,432.22 702.67,432.72 C703.47,433.21 703.23,434.57 703.09,435.60 C702.95,436.62 702.70,437.40 701.97,437.85 C701.24,438.30 700.10,438.30 699.44,437.85 C698.78,437.40 698.74,436.54 698.66,435.60 C698.59,434.66 698.29,433.71 699.09,433.14 Z" fill="#fbb4a6" />
<polygon points="698.0,437.5 700.6,437.5 700.9,440.0 698.0,440.0" fill="#fbb4a6" />
<path d="M693.11,441.57 C694.25,440.66 695.64,439.60 696.98,439.11 C698.31,438.62 698.86,438.48 699.79,439.11 C700.72,439.74 701.15,440.52 701.62,442.28 C702.08,444.03 701.97,445.65 702.11,447.90 C702.25,450.15 702.28,451.38 702.32,453.52 C702.36,455.66 704.67,457.47 702.32,458.58 C699.97,459.69 693.00,460.09 690.58,459.07 C688.16,458.06 690.26,455.90 690.23,453.52 C690.20,451.15 690.23,449.16 690.44,447.20 C690.65,445.23 690.75,444.81 691.28,443.68 C691.82,442.56 691.97,442.49 693.11,441.57 Z" fill="#ff7a00" />
<path d="M699.09,445.09 C699.45,444.38 701.02,445.15 701.62,445.79 C702.21,446.43 701.44,448.02 702.67,448.95 C703.90,449.89 707.88,450.64 709.00,451.41 C710.11,452.19 709.59,453.10 709.35,453.59 C709.10,454.08 708.82,454.48 707.52,454.36 C706.22,454.25 702.89,453.62 701.55,452.89 C700.20,452.16 699.85,451.31 699.44,450.01 C699.03,448.71 698.72,445.79 699.09,445.09 Z" fill="#f27200" />
<path d="M708.79,451.62 C709.22,451.24 711.31,451.66 711.81,452.05 C712.31,452.43 712.24,453.56 711.81,453.94 C711.38,454.33 709.71,454.75 709.21,454.36 C708.70,453.98 708.35,452.01 708.79,451.62 Z" fill="#fbb4a6" />
<polygon points="708.9,446.3 714.3,447.9 712.1,451.8 706.7,450.0" fill="#fbcb62" />
</g>
<g id="p8">
<path d="M798.69,350.47 C797.47,349.57 791.12,348.64 789.51,348.06 C787.89,347.48 787.44,346.42 786.61,346.12 C785.77,345.83 783.76,345.66 783.22,345.83 C782.68,346.00 782.35,346.99 782.54,347.38 C782.74,347.77 783.94,348.45 784.67,348.73 C785.41,349.02 787.02,348.95 788.06,349.51 C789.09,350.06 790.99,352.18 792.41,352.89 C793.83,353.60 797.86,355.15 798.69,354.83 C799.53,354.50 799.92,351.38 798.69,350.47 Z" fill="#fbb4a6" />
<path d="M803.05,344.19 C803.96,343.55 806.43,343.22 807.40,343.90 C808.37,344.57 808.02,346.41 807.88,347.57 C807.75,348.73 807.50,349.27 806.72,349.70 C805.95,350.13 804.79,350.22 804.01,349.70 C803.24,349.18 803.05,348.19 802.85,347.09 C802.66,345.99 802.14,344.83 803.05,344.19 Z" fill="#fbb4a6" />
<polygon points="804.0,348.5 807.4,348.5 807.7,350.5 804.0,350.5" fill="#fbb4a6" />
<path d="M803.53,342.25 C803.96,341.67 804.79,341.05 805.95,341.00 C807.11,340.94 808.23,341.23 809.33,341.96 C810.44,342.70 811.21,343.55 811.46,344.67 C811.71,345.79 811.11,346.64 810.59,347.57 C810.07,348.50 809.49,349.12 808.85,349.31 C808.21,349.51 807.63,349.27 807.40,348.54 C807.17,347.80 808.02,346.45 807.69,345.64 C807.36,344.83 806.53,344.83 805.75,344.48 C804.98,344.13 804.26,344.34 803.82,343.90 C803.38,343.45 803.10,342.83 803.53,342.25 Z" fill="#1d1d40" />
<path d="M813.20,357.73 C813.80,358.10 815.73,359.84 815.81,360.92 C815.89,362.00 814.28,363.85 813.68,364.21 C813.09,364.56 812.23,363.64 812.23,363.05 C812.23,362.45 813.68,361.35 813.68,360.63 C813.68,359.90 812.31,359.18 812.23,358.69 C812.15,358.21 812.60,357.36 813.20,357.73 Z" fill="#fbb4a6" />
<path d="M794.34,369.04 C795.05,368.52 801.90,367.96 802.56,368.37 C803.22,368.77 802.59,373.34 802.27,373.88 C801.96,374.42 799.16,374.20 798.79,374.85 C798.42,375.49 798.19,381.05 797.82,381.62 C797.45,382.18 794.66,382.20 794.34,381.62 C794.03,381.03 794.05,375.70 794.05,374.65 C794.05,373.60 793.63,369.57 794.34,369.04 Z" fill="#0f2a8c" />
<path d="M802.56,368.37 C803.50,367.83 811.34,367.91 812.23,368.37 C813.12,368.82 811.78,371.99 811.46,372.91 C811.14,373.83 809.48,376.82 809.04,377.55 C808.61,378.29 806.64,379.89 807.11,380.26 C807.57,380.63 813.01,380.80 813.68,381.23 C814.36,381.65 815.14,384.19 813.88,384.52 C812.62,384.85 802.50,384.81 801.11,384.52 C799.72,384.23 799.93,382.31 799.95,381.62 C799.97,380.92 801.02,378.35 801.31,377.55 C801.60,376.76 802.73,374.60 802.85,373.68 C802.98,372.77 801.62,368.90 802.56,368.37 Z" fill="#3a4cf5" />
<polygon points="794.6,381.2 797.5,381.2 797.5,383.4 794.6,383.4" fill="#fbb4a6" />
<path d="M791.63,384.32 C791.99,383.90 793.38,382.89 794.34,382.78 C795.31,382.66 796.99,383.23 797.44,383.65 C797.89,384.07 797.92,385.02 797.05,385.29 C796.18,385.56 793.12,385.45 792.21,385.29 C791.31,385.13 791.28,384.74 791.63,384.32 Z" fill="#1a1a35" />
<polygon points="813.5,381.2 815.2,381.2 815.2,383.8 813.5,383.8" fill="#fbb4a6" />
<polygon points="814.1,381.6 816.4,381.2 817.2,386.8 815.2,387.0" fill="#1a1a35" />
<path d="M798.69,350.18 C799.14,349.74 802.93,349.72 804.01,349.70 C805.10,349.68 810.96,349.68 811.75,349.99 C812.54,350.30 813.27,352.75 813.49,353.38 C813.71,354.00 814.36,356.63 814.36,357.44 C814.36,358.24 813.66,362.12 813.49,363.05 C813.32,363.97 813.25,368.10 812.33,368.56 C811.41,369.02 803.29,369.10 802.47,368.56 C801.64,368.02 802.46,363.21 802.47,362.08 C802.47,360.95 802.88,355.61 802.56,355.02 C802.25,354.43 799.02,355.42 798.69,355.02 C798.37,354.62 798.25,350.63 798.69,350.18 Z" fill="#ff7a00" />
</g>
</g>
</svg>
<div class="title" style="left:457.8px;top:257.4px;">智税云</div>
<div class="lbl" style="left:146.4px;top:203px;">进销项发票管理</div>
<div class="lbl" style="left:788.1px;top:197.3px;">智能纳税申报</div>
<div class="lbl" style="left:145.2px;top:516.5px;">发票协同</div>
<div class="lbl" style="left:787.6px;top:517.6px;">发票开具</div>
</div>
</body>
</html>
